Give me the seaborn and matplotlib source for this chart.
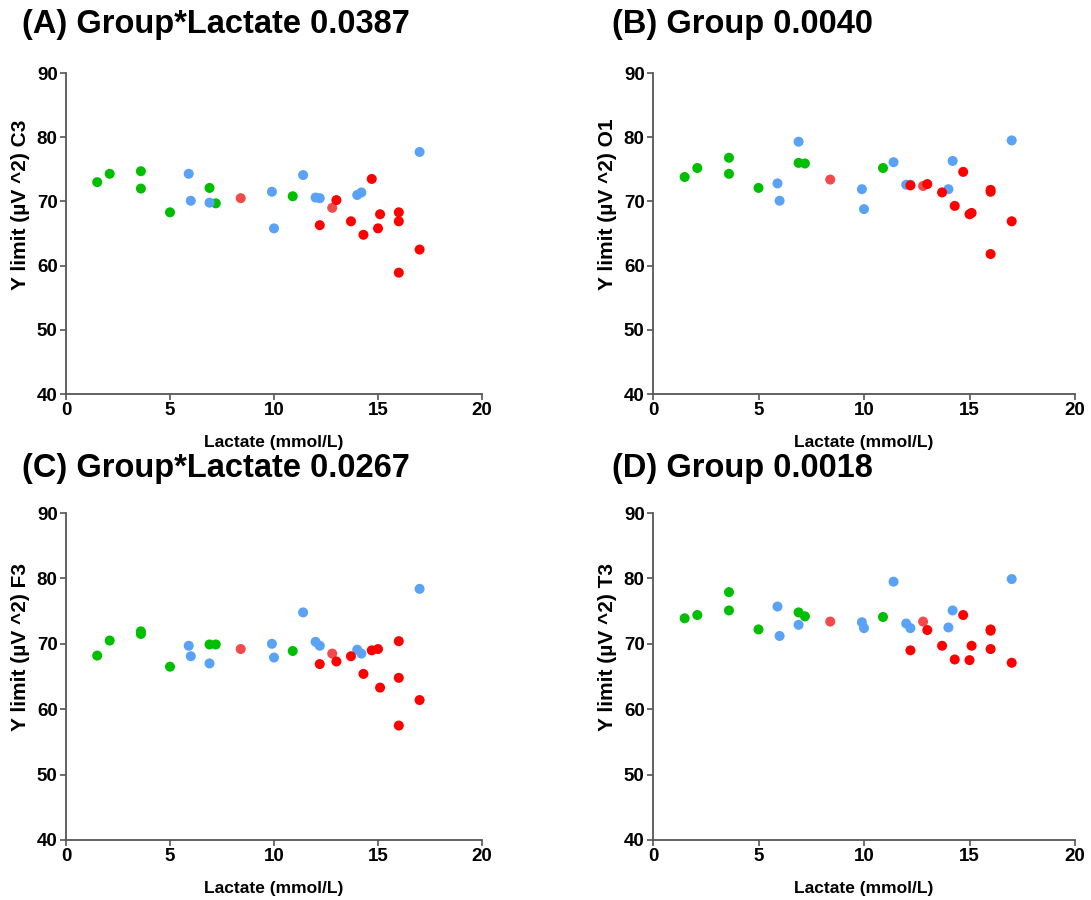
import numpy as np
import pandas as pd
import matplotlib
matplotlib.use("Agg")
import matplotlib.pyplot as plt
import seaborn as sns

# Blood lactate per participant, by group
lactate_green = [1.5, 2.1, 3.6, 3.6, 5.0, 6.9, 7.2, 10.9]
lactate_blue = [5.9, 6.0, 6.9, 9.9, 10.0, 11.4, 12.0, 12.2, 14.0, 14.2, 17.0]
lactate_light = [8.4, 12.8]
lactate_red = [12.2, 13.0, 13.7, 14.3, 14.7, 15.0, 15.1, 16.0, 16.0, 16.0, 17.0]

# Y limit per channel (µV^2)
c3_green = [73.0, 74.3, 74.7, 72.0, 68.3, 72.1, 69.7, 70.8]
c3_blue = [74.3, 70.1, 69.8, 71.5, 65.8, 74.1, 70.6, 70.5, 71.0, 71.4, 77.7]
c3_light = [70.5, 69.0]
c3_red = [66.3, 70.2, 66.9, 64.8, 73.5, 65.8, 68.0, 68.3, 66.9, 58.9, 62.5]

o1_green = [73.8, 75.2, 76.8, 74.3, 72.1, 76.0, 75.9, 75.2]
o1_blue = [72.8, 70.1, 79.3, 71.9, 68.8, 76.1, 72.6, 72.6, 71.9, 76.3, 79.5]
o1_light = [73.4, 72.4]
o1_red = [72.5, 72.7, 71.4, 69.3, 74.6, 68.0, 68.2, 71.8, 71.5, 61.8, 66.9]

f3_green = [68.2, 70.5, 71.9, 71.5, 66.5, 69.9, 69.9, 68.9]
f3_blue = [69.7, 68.1, 67.0, 70.0, 67.9, 74.8, 70.3, 69.7, 69.1, 68.5, 78.4]
f3_light = [69.2, 68.5]
f3_red = [66.9, 67.3, 68.1, 65.4, 69.0, 69.2, 63.3, 70.4, 64.8, 57.5, 61.4]

t3_green = [73.9, 74.4, 77.9, 75.1, 72.2, 74.8, 74.2, 74.1]
t3_blue = [75.7, 71.2, 72.9, 73.3, 72.4, 79.5, 73.1, 72.4, 72.5, 75.1, 79.9]
t3_light = [73.4, 73.4]
t3_red = [69.0, 72.1, 69.7, 67.6, 74.4, 67.5, 69.7, 72.2, 72.0, 69.2, 67.1]

titles = ["(A) Group*Lactate 0.0387", "(B) Group 0.0040",
          "(C) Group*Lactate 0.0267", "(D) Group 0.0018"]
channels = ["C3", "O1", "F3", "T3"]
x_ticks = [0, 5, 10, 15, 20]
y_ticks = [40, 50, 60, 70, 80, 90]

palette = {"green": "#00BE00", "blue": "#5AA2F6", "light": "#F24A4A", "red": "#FF0000"}

channel_values = {
    "C3": (c3_green, c3_blue, c3_light, c3_red),
    "O1": (o1_green, o1_blue, o1_light, o1_red),
    "F3": (f3_green, f3_blue, f3_light, f3_red),
    "T3": (t3_green, t3_blue, t3_light, t3_red),
}
lactates = (lactate_green, lactate_blue, lactate_light, lactate_red)
groups = ("green", "blue", "light", "red")

rows = []
for ch, vals in channel_values.items():
    for g, xs, ys in zip(groups, lactates, vals):
        for xv, yv in zip(xs, ys):
            rows.append({"channel": ch, "group": g, "lactate": xv, "ylimit": yv})
df = pd.DataFrame(rows)

sns.set_style("ticks")
plt.rcParams["font.family"] = ["Liberation Sans", "DejaVu Sans"]
plt.rcParams["font.weight"] = "bold"
plt.rcParams["text.color"] = "black"
plt.rcParams["axes.labelcolor"] = "black"
plt.rcParams["xtick.labelcolor"] = "black"
plt.rcParams["ytick.labelcolor"] = "black"

fig = plt.figure(figsize=(10.91, 9.0), dpi=100)

# axes rectangles in figure pixels: (left, right, top, bottom)
boxes = [(66, 482, 73, 394), (653, 1075, 73, 394),
         (66, 482, 513, 840), (653, 1075, 513, 840)]
title_pos = [(22, 24), (612, 24), (22, 469), (612, 469)]
W, H = 1091, 900

for i, ch in enumerate(channels):
    l, r, t, b = boxes[i]
    ax = fig.add_axes([l / W, 1 - b / H, (r - l) / W, (b - t) / H])
    sub = df[df["channel"] == ch]
    sns.scatterplot(data=sub, x="lactate", y="ylimit", hue="group",
                    palette=palette, hue_order=list(groups), s=52,
                    edgecolor="none", linewidth=0, legend=False, ax=ax,
                    clip_on=False)
    ax.set_xlim(0, 20)
    ax.set_ylim(40, 90)
    ax.set_xticks(x_ticks)
    ax.set_yticks(y_ticks)
    ax.tick_params(axis="both", labelsize=13.5, length=4, width=1.2,
                   color="#555555", pad=2)
    for lab in ax.get_xticklabels() + ax.get_yticklabels():
        lab.set_fontweight("bold")
    for side in ("top", "right"):
        ax.spines[side].set_visible(False)
    for side in ("left", "bottom"):
        ax.spines[side].set_color("#555555")
        ax.spines[side].set_linewidth(1.3)
    ax.set_xlabel("Lactate (mmol/L)", fontsize=12.5, fontweight="bold",
                  labelpad=11)
    ax.set_ylabel(f"Y limit (\u00b5V ^2) {ch}", fontsize=15, fontweight="bold")
    ax.yaxis.set_label_coords(-36 / (r - l), 0.59)
    tx, ty = title_pos[i]
    fig.text(tx / W, 1 - ty / H, titles[i], fontsize=23.5, fontweight="bold",
             ha="left", va="center")

fig.savefig("out.png", dpi=100)
